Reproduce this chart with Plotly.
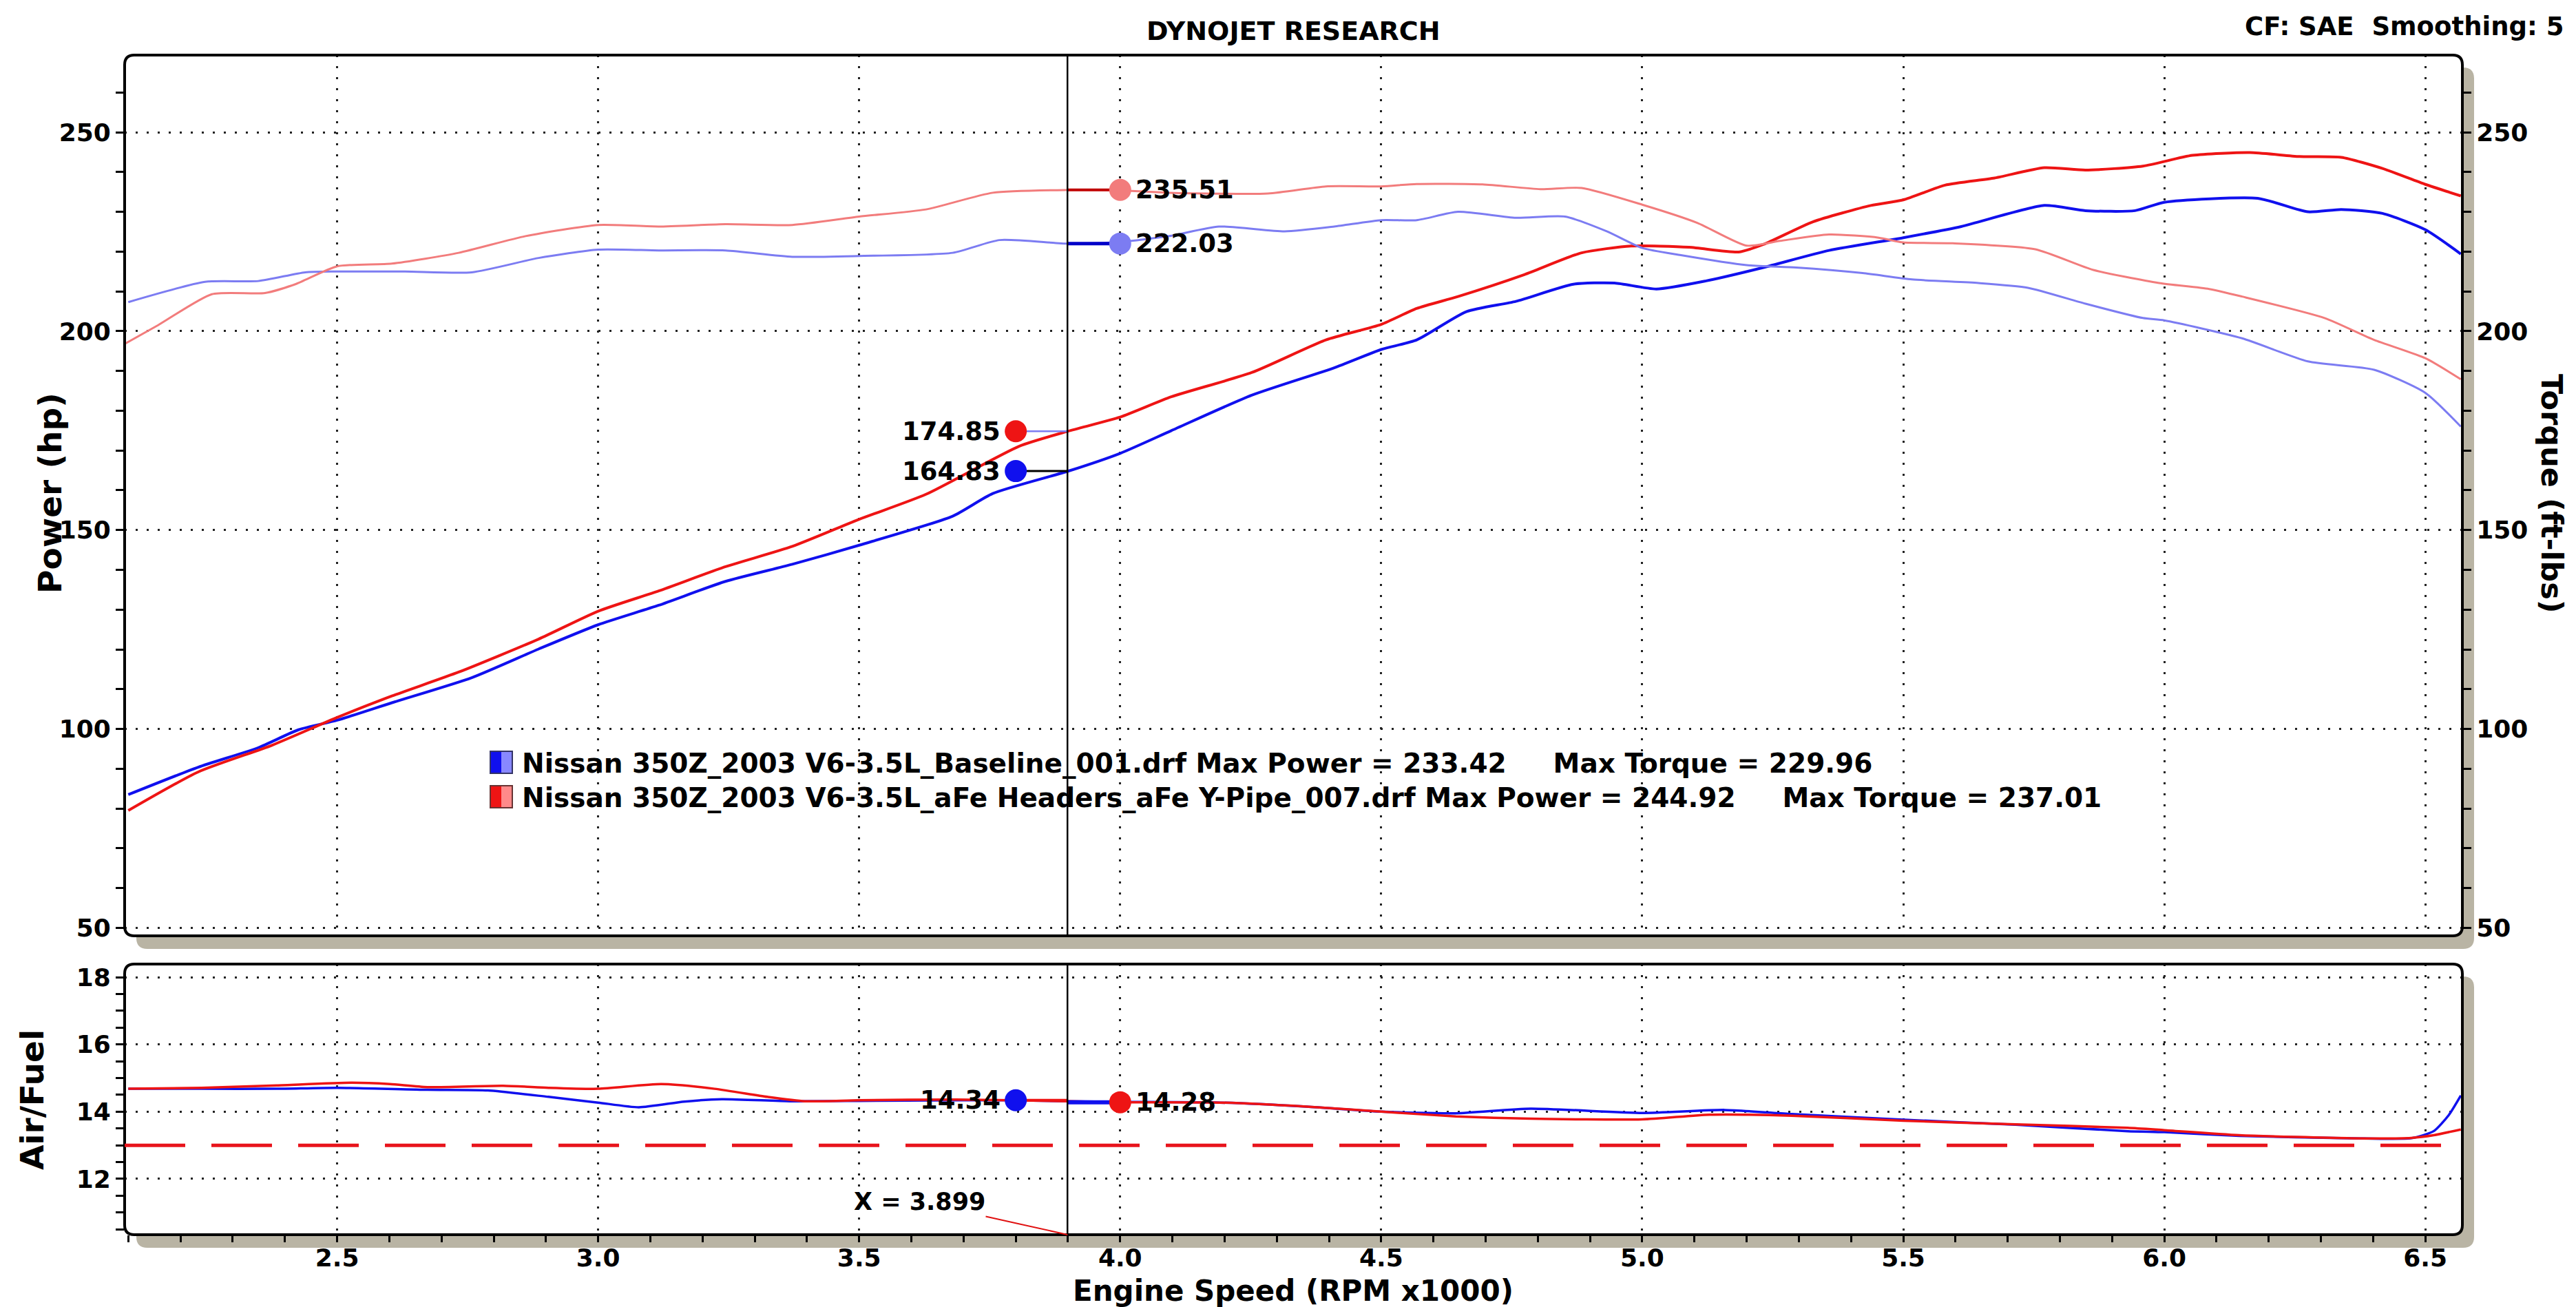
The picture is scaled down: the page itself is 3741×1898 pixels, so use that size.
import plotly.graph_objects as go

# ---------------- data ----------------
pwr_base_rpm = [2.10, 2.234, 2.349, 2.426, 2.50, 2.605, 2.758, 2.886, 3.00, 3.116, 3.244, 3.372, 3.50,
                3.679, 3.756, 3.90, 4.00, 4.098, 4.252, 4.41, 4.50, 4.568, 4.663, 4.758, 4.868, 4.947,
                5.027, 5.121, 5.232, 5.358, 5.50, 5.611, 5.77, 5.849, 5.944, 6.00, 6.179, 6.275, 6.339,
                6.418, 6.50, 6.568]
pwr_base_hp = [83.5, 90.4, 95.3, 99.8, 102.2, 106.6, 112.9, 120.1, 126.2, 131.1, 137.1, 141.4, 146.2,
               153.5, 159.2, 164.8, 169.3, 175.0, 183.9, 190.8, 195.4, 197.8, 204.9, 207.5, 211.8, 212.1,
               210.6, 212.6, 216.0, 220.3, 223.5, 226.3, 231.6, 230.3, 230.3, 232.4, 233.4, 230.0, 230.6,
               229.6, 225.5, 219.4]

pwr_mod_rpm = [2.10, 2.234, 2.375, 2.50, 2.605, 2.733, 2.886, 3.00, 3.116, 3.244, 3.372, 3.50, 3.628,
               3.807, 3.90, 4.00, 4.098, 4.252, 4.394, 4.50, 4.568, 4.647, 4.774, 4.884, 4.979, 5.09,
               5.185, 5.232, 5.327, 5.438, 5.50, 5.58, 5.675, 5.77, 5.849, 5.959, 6.054, 6.164, 6.259,
               6.339, 6.418, 6.50, 6.568]
pwr_mod_hp = [79.5, 89.2, 95.9, 102.9, 108.3, 114.3, 122.6, 129.6, 134.7, 140.8, 145.9, 152.7, 159.0,
              171.1, 174.85, 178.4, 183.5, 189.6, 197.8, 201.7, 205.7, 208.7, 214.2, 219.7, 221.4, 221.1,
              219.9, 221.8, 227.5, 231.6, 233.0, 236.7, 238.5, 241.1, 240.5, 241.5, 244.2, 244.9, 243.9,
              243.7, 240.9, 236.9, 234.0]

tq_base_rpm = [2.10, 2.247, 2.349, 2.439, 2.50, 2.63, 2.758, 2.886, 3.00, 3.116, 3.244, 3.372, 3.50,
               3.679, 3.769, 3.90, 4.00, 4.094, 4.189, 4.315, 4.41, 4.50, 4.568, 4.647, 4.758, 4.852,
               4.932, 5.00, 5.074, 5.20, 5.295, 5.422, 5.517, 5.644, 5.739, 5.849, 5.959, 6.00, 6.149,
               6.275, 6.402, 6.50, 6.568]
tq_base_ftlb = [207.3, 212.4, 212.6, 214.8, 215.0, 215.0, 214.8, 218.4, 220.5, 220.3, 220.3, 218.7, 218.9,
                219.7, 222.9, 222.0, 222.4, 223.9, 226.3, 225.1, 226.3, 227.9, 227.9, 230.0, 228.5, 228.8,
                225.1, 220.9, 219.1, 216.6, 216.0, 214.6, 213.0, 212.1, 210.9, 206.9, 203.3, 202.7, 198.2,
                192.4, 190.3, 184.5, 176.0]

tq_mod_rpm = [2.093, 2.157, 2.26, 2.362, 2.42, 2.50, 2.605, 2.733, 2.861, 3.00, 3.116, 3.244, 3.372,
              3.50, 3.628, 3.756, 3.90, 4.00, 4.094, 4.283, 4.394, 4.50, 4.568, 4.694, 4.805, 4.884,
              5.00, 5.106, 5.20, 5.264, 5.358, 5.453, 5.50, 5.595, 5.753, 5.864, 5.99, 6.086, 6.149,
              6.307, 6.402, 6.50, 6.568]
tq_mod_ftlb = [196.8, 201.5, 209.3, 209.6, 211.8, 216.3, 217.0, 219.7, 223.9, 226.7, 226.3, 226.9, 226.7,
               228.8, 230.6, 234.8, 235.5, 235.4, 234.8, 234.6, 236.4, 236.4, 237.0, 236.9, 235.7, 236.0,
               231.8, 227.2, 221.5, 222.7, 224.3, 223.5, 222.3, 222.1, 220.6, 215.4, 212.1, 210.6, 208.7,
               203.3, 197.8, 193.2, 187.9]

af_base_rpm = [2.10, 2.24, 2.384, 2.50, 2.673, 2.789, 2.905, 3.00, 3.078, 3.165, 3.237, 3.367, 3.50,
               3.685, 3.80, 3.90, 4.00, 4.191, 4.357, 4.50, 4.643, 4.786, 5.00, 5.158, 5.286, 5.50,
               5.715, 5.93, 6.00, 6.144, 6.358, 6.473, 6.516, 6.545, 6.568]
af_base = [14.68, 14.68, 14.68, 14.71, 14.65, 14.63, 14.44, 14.27, 14.13, 14.30, 14.37, 14.31, 14.32,
           14.34, 14.34, 14.31, 14.29, 14.27, 14.15, 14.00, 13.95, 14.09, 13.96, 14.05, 13.93, 13.76,
           13.61, 13.42, 13.39, 13.28, 13.21, 13.21, 13.42, 13.90, 14.48]

af_mod_rpm = [2.10, 2.24, 2.384, 2.529, 2.601, 2.673, 2.818, 2.905, 3.00, 3.121, 3.223, 3.324, 3.396,
              3.50, 3.685, 3.90, 4.00, 4.191, 4.357, 4.50, 4.643, 4.786, 5.00, 5.129, 5.286, 5.50,
              5.715, 5.93, 6.00, 6.144, 6.358, 6.473, 6.516, 6.568]
af_mod = [14.68, 14.71, 14.78, 14.86, 14.82, 14.73, 14.77, 14.71, 14.68, 14.82, 14.68, 14.44, 14.31,
          14.34, 14.36, 14.31, 14.28, 14.27, 14.15, 14.00, 13.86, 13.79, 13.77, 13.91, 13.88, 13.73,
          13.62, 13.52, 13.45, 13.30, 13.21, 13.22, 13.30, 13.47]

af_target = 13.0
cursor_rpm = 3.899
cursor_pwr_base, cursor_pwr_mod = 164.83, 174.85
cursor_tq_base, cursor_tq_mod = 222.03, 235.51
cursor_af_base, cursor_af_mod = 14.34, 14.28

run_names = ["Nissan 350Z_2003 V6-3.5L_Baseline_001.drf",
             "Nissan 350Z_2003 V6-3.5L_aFe Headers_aFe Y-Pipe_007.drf"]
max_power = [233.42, 244.92]
max_torque = [229.96, 237.01]

x_ticks = [2.5, 3.0, 3.5, 4.0, 4.5, 5.0, 5.5, 6.0, 6.5]
pwr_ticks = [50, 100, 150, 200, 250]
af_ticks = [12, 14, 16, 18]

# ---------------- styling / layout geometry ----------------
W, H = 3741, 1898
ML, MR, MT, MB = 181, 165, 80, 105
PW = W - ML - MR
PH = H - MT - MB

def fx(px):
    return (px - ML) / PW

def fy(py):
    return (H - MB - py) / PH

TOP = (181, 80, 3576, 1359)
BOT = (181, 1400, 3576, 1793)
X_RANGE = [2.093, 6.571]
PWR_RANGE = [48.0, 269.4]
AF_RANGE = [10.34, 18.39]

BLUE = "#1010ee"
RED = "#ee1414"
LBLUE = "#7c7cf2"
LRED = "#f27c7c"
SHADOW = "#b9b4a4"
FONT = "Verdana, DejaVu Sans, sans-serif"

def rrect(x0, y0, x1, y1, r=12):
    pts = [("M", [(x0 + r, y0)]), ("L", [(x1 - r, y0)]), ("Q", [(x1, y0), (x1, y0 + r)]),
           ("L", [(x1, y1 - r)]), ("Q", [(x1, y1), (x1 - r, y1)]), ("L", [(x0 + r, y1)]),
           ("Q", [(x0, y1), (x0, y1 - r)]), ("L", [(x0, y0 + r)]), ("Q", [(x0, y0), (x0 + r, y0)])]
    s = ""
    for cmd, ps in pts:
        s += cmd + " " + " ".join(f"{fx(a):.6f},{fy(b):.6f}" for a, b in ps) + " "
    return s + "Z"

fig = go.Figure()

# curves
fig.add_trace(go.Scatter(x=tq_base_rpm, y=tq_base_ftlb, yaxis="y2", xaxis="x", mode="lines",
                         line=dict(color=LBLUE, width=3, shape="spline", smoothing=0.6)))
fig.add_trace(go.Scatter(x=tq_mod_rpm, y=tq_mod_ftlb, yaxis="y2", xaxis="x", mode="lines",
                         line=dict(color=LRED, width=3, shape="spline", smoothing=0.6)))
fig.add_trace(go.Scatter(x=pwr_base_rpm, y=pwr_base_hp, xaxis="x", yaxis="y", mode="lines",
                         line=dict(color=BLUE, width=4, shape="spline", smoothing=0.6)))
fig.add_trace(go.Scatter(x=pwr_mod_rpm, y=pwr_mod_hp, xaxis="x", yaxis="y", mode="lines",
                         line=dict(color=RED, width=4, shape="spline", smoothing=0.6)))
fig.add_trace(go.Scatter(x=af_base_rpm, y=af_base, xaxis="x2", yaxis="y3", mode="lines",
                         line=dict(color=BLUE, width=3.5, shape="spline", smoothing=0.6)))
fig.add_trace(go.Scatter(x=af_mod_rpm, y=af_mod, xaxis="x2", yaxis="y3", mode="lines",
                         line=dict(color=RED, width=3.5, shape="spline", smoothing=0.6)))

# cursor connectors
left_x, right_x = 3.80, 4.00
conns = [
    ("x", "y2", [cursor_rpm, right_x], cursor_tq_mod, "#c00000", 4),
    ("x", "y2", [cursor_rpm, right_x], cursor_tq_base, "#0000c8", 5),
    ("x", "y", [left_x, cursor_rpm], cursor_pwr_mod, LBLUE, 2.5),
    ("x", "y", [left_x, cursor_rpm], cursor_pwr_base, "#000000", 3),
    ("x2", "y3", [left_x, cursor_rpm], cursor_af_base, RED, 4),
    ("x2", "y3", [cursor_rpm, right_x], cursor_af_mod, BLUE, 6),
]
for xa, ya, xs, v, c, w in conns:
    fig.add_trace(go.Scatter(x=xs, y=[v, v], xaxis=xa, yaxis=ya, mode="lines",
                             line=dict(color=c, width=w)))

# cursor markers
marks = [
    ("x", "y2", right_x, cursor_tq_mod, LRED),
    ("x", "y2", right_x, cursor_tq_base, LBLUE),
    ("x", "y", left_x, cursor_pwr_mod, RED),
    ("x", "y", left_x, cursor_pwr_base, BLUE),
    ("x2", "y3", left_x, cursor_af_base, BLUE),
    ("x2", "y3", right_x, cursor_af_mod, RED),
]
for xa, ya, xv, v, c in marks:
    fig.add_trace(go.Scatter(x=[xv], y=[v], xaxis=xa, yaxis=ya, mode="markers",
                             marker=dict(color=c, size=32, line=dict(width=0))))

tickfont = dict(family=FONT, size=36, color="black", weight="bold")
grid = dict(showgrid=True, gridcolor="#222222", gridwidth=3, griddash="3px,13px")

fig.update_layout(
    width=W, height=H, showlegend=False,
    margin=dict(l=ML, r=MR, t=MT, b=MB, pad=0),
    paper_bgcolor="white", plot_bgcolor="rgba(0,0,0,0)",
    xaxis=dict(domain=[0, 1], anchor="y", range=X_RANGE, tickvals=x_ticks, showticklabels=False,
               ticks="", zeroline=False, showline=False, **grid),
    yaxis=dict(domain=[fy(TOP[3]), 1], anchor="x", range=PWR_RANGE, tickvals=pwr_ticks,
               ticks="outside", ticklen=12, tickwidth=3, tickcolor="black", tickfont=tickfont,
               minor=dict(dtick=10, tick0=0, ticks="outside", ticklen=12, tickwidth=3,
                          tickcolor="black", showgrid=False),
               zeroline=False, showline=False, **grid),
    yaxis2=dict(overlaying="y", anchor="x", side="right", range=PWR_RANGE, tickvals=pwr_ticks,
                ticks="outside", ticklen=12, tickwidth=3, tickcolor="black", tickfont=tickfont,
                minor=dict(dtick=10, tick0=0, ticks="outside", ticklen=12, tickwidth=3,
                           tickcolor="black", showgrid=False),
                showgrid=False, zeroline=False, showline=False),
    xaxis2=dict(domain=[0, 1], anchor="y3", range=X_RANGE, tickvals=x_ticks, tickformat=".1f",
                ticks="outside", ticklen=10, tickwidth=3, tickcolor="black", tickfont=tickfont,
                ticklabelstandoff=-8,
                minor=dict(dtick=0.1, tick0=0, ticks="outside", ticklen=10, tickwidth=3,
                           tickcolor="black", showgrid=False),
                zeroline=False, showline=False, **grid),
    yaxis3=dict(domain=[0, fy(BOT[1])], anchor="x2", range=AF_RANGE, tickvals=af_ticks,
                ticks="outside", ticklen=12, tickwidth=3, tickcolor="black", tickfont=tickfont,
                minor=dict(dtick=0.5, tick0=0, ticks="outside", ticklen=12, tickwidth=3,
                           tickcolor="black", showgrid=False),
                zeroline=False, showline=False, **grid),
)

shapes = []
for (x0, y0, x1, y1) in (TOP, BOT):
    shapes.append(dict(type="path", xref="paper", yref="paper", layer="below",
                       path=rrect(x0 + 17, y0 + 18, x1 + 17, y1 + 19, 16),
                       fillcolor=SHADOW, line=dict(width=0)))
for (x0, y0, x1, y1) in (TOP, BOT):
    shapes.append(dict(type="path", xref="paper", yref="paper", layer="below",
                       path=rrect(x0, y0, x1, y1, 14), fillcolor="white", line=dict(width=0)))
for (x0, y0, x1, y1) in (TOP, BOT):
    shapes.append(dict(type="path", xref="paper", yref="paper", layer="above",
                       path=rrect(x0, y0, x1, y1, 14), fillcolor="rgba(0,0,0,0)",
                       line=dict(color="black", width=4)))
# A/F target line
shapes.append(dict(type="line", xref="x2 domain", yref="y3", x0=0, x1=1, y0=af_target, y1=af_target,
                   line=dict(color="#e8141c", width=5, dash="88px,38px"), layer="above"))
# cursor line
shapes.append(dict(type="line", xref="x", yref="y domain", x0=cursor_rpm, x1=cursor_rpm, y0=0, y1=1,
                   line=dict(color="black", width=2.5)))
shapes.append(dict(type="line", xref="x2", yref="y3 domain", x0=cursor_rpm, x1=cursor_rpm, y0=0, y1=1,
                   line=dict(color="black", width=2.5)))
# legend swatches
LEG_Y = [1108, 1158]
for i, (dark, light) in enumerate(((BLUE, "#8888ff"), (RED, "#ff8a8a"))):
    ty, by = LEG_Y[i] - 17, LEG_Y[i] + 15
    shapes.append(dict(type="rect", xref="paper", yref="paper", x0=fx(712), x1=fx(728),
                       y0=fy(by), y1=fy(ty), fillcolor=dark, line=dict(width=0)))
    shapes.append(dict(type="rect", xref="paper", yref="paper", x0=fx(728), x1=fx(744),
                       y0=fy(by), y1=fy(ty), fillcolor=light, line=dict(width=0)))
    shapes.append(dict(type="rect", xref="paper", yref="paper", x0=fx(712), x1=fx(744),
                       y0=fy(by), y1=fy(ty), fillcolor="rgba(0,0,0,0)",
                       line=dict(color="#333366" if i == 0 else "#663333", width=2)))
fig.update_layout(shapes=shapes)

def bold(size):
    return dict(family=FONT, size=size, color="black", weight="bold")

ann = []
ann.append(dict(xref="paper", yref="paper", x=fx(1878), y=fy(45), text="DYNOJET RESEARCH",
                showarrow=False, xanchor="center", yanchor="middle", font=bold(38)))
ann.append(dict(xref="paper", yref="paper", x=fx(3725), y=fy(38),
                text="CF: SAE\u00a0\u00a0Smoothing: 5",
                showarrow=False, xanchor="right", yanchor="middle", font=bold(37)))
ann.append(dict(xref="paper", yref="paper", x=fx(72), y=fy(716), text="Power (hp)", textangle=-90,
                showarrow=False, xanchor="center", yanchor="middle", font=bold(47)))
ann.append(dict(xref="paper", yref="paper", x=fx(3706), y=fy(716), text="Torque (ft-lbs)", textangle=90,
                showarrow=False, xanchor="center", yanchor="middle", font=bold(43)))
ann.append(dict(xref="paper", yref="paper", x=fx(46), y=fy(1597), text="Air/Fuel", textangle=-90,
                showarrow=False, xanchor="center", yanchor="middle", font=bold(47)))
ann.append(dict(xref="paper", yref="paper", x=fx(1878), y=fy(1874), text="Engine Speed (RPM x1000)",
                showarrow=False, xanchor="center", yanchor="middle", font=bold(42)))
gap = "\u00a0" * 5
for i in range(2):
    ann.append(dict(xref="paper", yref="paper", x=fx(756), y=fy(LEG_Y[i]),
                    text=f"{run_names[i]} Max Power = {max_power[i]:.2f}{gap}Max Torque = {max_torque[i]:.2f}",
                    showarrow=False, xanchor="left", yanchor="middle", font=bold(39)))
# cursor value labels
for xa, ya, xv, v, side in [("x", "y2", right_x, cursor_tq_mod, "r"), ("x", "y2", right_x, cursor_tq_base, "r"),
                            ("x", "y", left_x, cursor_pwr_mod, "l"), ("x", "y", left_x, cursor_pwr_base, "l"),
                            ("x2", "y3", left_x, cursor_af_base, "l"), ("x2", "y3", right_x, cursor_af_mod, "r")]:
    ann.append(dict(xref=xa, yref=ya, x=xv, y=v, text=f"{v:.2f}", showarrow=False,
                    xanchor="left" if side == "r" else "right", yanchor="middle",
                    xshift=20 if side == "r" else -20, font=bold(37)))
ann.append(dict(xref="x2", yref="y3", x=cursor_rpm, y=AF_RANGE[0], text=f"X = {cursor_rpm:.3f}",
                showarrow=True, arrowhead=0, arrowwidth=2, arrowcolor="#e01010", ax=-215, ay=-48,
                standoff=0, font=bold(35)))
fig.update_layout(annotations=ann)

fig.write_html("out.html", config={"displayModeBar": False},
               post_script="document.body.style.margin='0';document.body.style.overflow='hidden';")
